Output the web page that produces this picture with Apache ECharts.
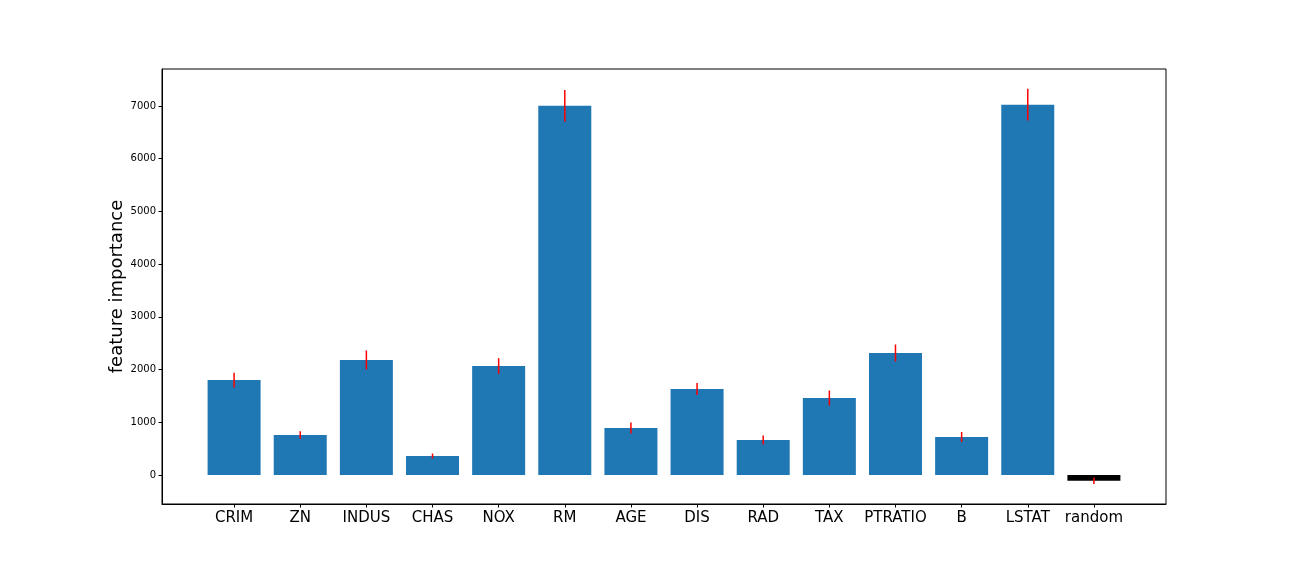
<!DOCTYPE html>
<html>
<head>
<meta charset="utf-8">
<script src="https://cdn.jsdelivr.net/npm/echarts@6/dist/echarts.min.js"></script>
<style>html,body{margin:0;padding:0;background:#fff}#c{width:1296px;height:576px}</style>
</head>
<body>
<div id="c"></div>
<script>
const categories = ['CRIM','ZN','INDUS','CHAS','NOX','RM','AGE','DIS','RAD','TAX','PTRATIO','B','LSTAT','random'];
const importance = [1802, 759, 2182, 360, 2068, 7003, 892, 1632, 664, 1461, 2315, 721, 7025, -110];
const errors = [140, 73, 180, 47, 149, 301, 104, 114, 85, 142, 161, 95, 301, 62];
const yTicks = [0, 1000, 2000, 3000, 4000, 5000, 6000, 7000];
const xTicks = categories.map((c, i) => i);

const chart = echarts.init(document.getElementById('c'), null, {renderer: 'canvas'});
const font = 'DejaVu Sans';
chart.setOption({
  animation: false,
  backgroundColor: '#fff',
  grid: {left: 162, top: 69, width: 1004, height: 435, show: true, borderColor: '#000', borderWidth: 1, backgroundColor: 'transparent'},
  xAxis: {
    type: 'value', min: -1.09, max: 14.09,
    splitLine: {show: false},
    axisLine: {show: true, onZero: false, lineStyle: {color: '#000', width: 1}},
    axisTick: {show: true, length: 3.5, lineStyle: {color: '#000'}, customValues: xTicks},
    axisLabel: {customValues: xTicks, formatter: v => categories[Math.round(v)], fontFamily: font, fontSize: 15, color: '#000', margin: 7},
  },
  yAxis: {
    type: 'value', min: -550, max: 7702,
    name: 'feature importance', nameLocation: 'middle', nameGap: 36, nameMoveOverlap: false,
    nameTextStyle: {fontFamily: font, fontSize: 18, color: '#000'},
    splitLine: {show: false},
    axisLine: {show: true, onZero: false, lineStyle: {color: '#000', width: 1}},
    axisTick: {show: true, length: 3.5, lineStyle: {color: '#000'}, customValues: yTicks},
    axisLabel: {customValues: yTicks, formatter: v => String(Math.round(v)), fontFamily: font, fontSize: 10, color: '#000', margin: 6},
  },
  series: [
    {
      type: 'bar', barWidth: 53,
      data: importance.map((v, i) => ({value: [i, v], itemStyle: {color: categories[i] === 'random' ? '#000000' : '#1f77b4'}})),
    },
    {
      type: 'custom', z: 10,
      data: importance.map((v, i) => [i, v, errors[i]]),
      renderItem: function (params, api) {
        const x = api.value(0), v = api.value(1), e = api.value(2);
        const p1 = api.coord([x, v - e]);
        const p2 = api.coord([x, v + e]);
        return {type: 'line', shape: {x1: p1[0], y1: p1[1], x2: p2[0], y2: p2[1]}, style: {stroke: '#ff0000', lineWidth: 1.5}};
      }
    }
  ]
});
</script>
</body>
</html>
